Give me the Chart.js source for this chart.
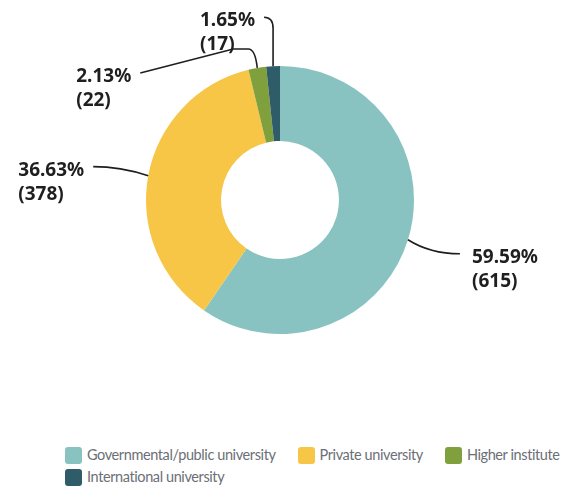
<!DOCTYPE html>
<html>
<head>
<meta charset="utf-8">
<script src="https://cdn.jsdelivr.net/npm/chart.js@4"></script>
<style>
  html, body { margin: 0; padding: 0; background: #fff; }
  #wrap { position: relative; width: 577px; height: 487px; overflow: hidden; }
  #chart-box { position: absolute; left: 0; top: 0; width: 577px; height: 430px; }
  #legend { position: absolute; left: 65px; top: 444px; width: 535px; font-family: Lato, sans-serif; font-size: 14.5px; letter-spacing: -0.4px; color: #6b6f77; line-height: 22px; }
  .item { display: inline-flex; align-items: center; margin-right: 22px; height: 22px; white-space: nowrap; vertical-align: top; }
  .swatch { width: 17px; height: 17px; border-radius: 3px; margin-right: 5px; }
</style>
</head>
<body>
<div id="wrap">
  <div id="chart-box"><canvas id="chart"></canvas></div>
  <div id="legend"></div>
</div>
<script>
const categories = ['Governmental/public university', 'Private university', 'Higher institute', 'International university'];
const counts = [615, 378, 22, 17];
const colors = ['#88c3c1', '#f7c646', '#80a03d', '#2f5c69'];

// leader line shapes, offsets from the slice's outer edge midpoint
// each step: ['L', dx, dy] or ['Q', cdx, cdy, dx, dy]; side = where the label sits
const leaders = [
  { path: [['Q', 22, 14, 52, 14]], side: 'right' },
  { path: [['Q', -28, -9, -55, -9]], side: 'left' },
  { path: [['Q', -2, -19, -9, -19], ['L', -24, -19], ['L', -117, 5]], side: 'left' },
  { path: [['L', 0, -38], ['Q', 0, -49, -9, -49]], side: 'left' }
];

const total = counts.reduce((a, b) => a + b, 0);

const leaderLabels = {
  id: 'leaderLabels',
  afterDatasetsDraw(chart) {
    const ctx = chart.ctx;
    const arcs = chart.getDatasetMeta(0).data;
    ctx.save();
    arcs.forEach((arc, i) => {
      const p = arc.getProps(['x', 'y', 'startAngle', 'endAngle', 'outerRadius'], true);
      const mid = (p.startAngle + p.endAngle) / 2;
      const x0 = p.x + Math.cos(mid) * p.outerRadius;
      const y0 = p.y + Math.sin(mid) * p.outerRadius;
      const cfg = leaders[i];
      ctx.beginPath();
      ctx.moveTo(x0, y0);
      let ex = x0, ey = y0;
      cfg.path.forEach(step => {
        if (step[0] === 'L') {
          ex = x0 + step[1]; ey = y0 + step[2];
          ctx.lineTo(ex, ey);
        } else {
          ex = x0 + step[3]; ey = y0 + step[4];
          ctx.quadraticCurveTo(x0 + step[1], y0 + step[2], ex, ey);
        }
      });
      ctx.strokeStyle = '#1e1e1e';
      ctx.lineWidth = 1.6;
      ctx.stroke();

      const line1 = (counts[i] / total * 100).toFixed(2) + '%';
      const line2 = '(' + counts[i] + ')';
      ctx.font = 'bold 19px "Noto Sans", sans-serif';
      ctx.fillStyle = '#1f1f1f';
      ctx.textAlign = 'left';
      ctx.textBaseline = 'alphabetic';
      let tx;
      if (cfg.side === 'right') {
        tx = ex + 12;
      } else {
        tx = ex - 9 - ctx.measureText(line1).width;
      }
      ctx.fillText(line1, tx, ey + 9);
      ctx.fillText(line2, tx, ey + 33);
    });
    ctx.restore();
  }
};

new Chart(document.getElementById('chart'), {
  type: 'doughnut',
  data: {
    labels: categories,
    datasets: [{
      data: counts,
      backgroundColor: colors,
      borderWidth: 0
    }]
  },
  options: {
    responsive: true,
    maintainAspectRatio: false,
    animation: false,
    cutout: '44%',
    layout: {
      padding: { top: 66, bottom: 96, left: 146, right: 163 }
    },
    plugins: {
      legend: { display: false },
      tooltip: { enabled: false }
    }
  },
  plugins: [leaderLabels]
});

// legend built from the same arrays
const legendEl = document.getElementById('legend');
categories.forEach((name, i) => {
  const item = document.createElement('span');
  item.className = 'item';
  const sw = document.createElement('span');
  sw.className = 'swatch';
  sw.style.background = colors[i];
  item.appendChild(sw);
  item.appendChild(document.createTextNode(name));
  legendEl.appendChild(item);
});
</script>
</body>
</html>
